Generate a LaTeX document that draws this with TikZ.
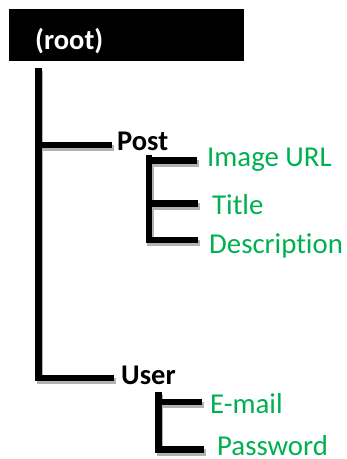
\documentclass[tikz,border=0pt]{standalone}
\usepackage{fontspec}
\setmainfont{Carlito}[Ligatures=NoCommon]
\usetikzlibrary{positioning}
\definecolor{leafgreen}{HTML}{00B050}

\begin{document}
\begin{tikzpicture}[x=1pt,y=-1pt]
		\tikzset{rootbox/.style={fill=black, text=white, anchor=north west,
				font=\bfseries\fontsize{28.5}{30}\selectfont, align=left,
				text width=183pt, inner xsep=26pt, inner ysep=0pt,
				text height=28pt, text depth=0pt, minimum height=52pt}}
		\tikzset{stem/.style={anchor=base west, inner sep=0pt,
				font=\bfseries\fontsize{28.5}{30}\selectfont}}
		\tikzset{leaf/.style={anchor=base west, inner sep=0pt, text=leafgreen,
				font=\fontsize{28.8}{30}\selectfont}}
		\tikzset{branch/.style={line width=6.5pt,
				preaction={draw=gray!60, line width=6.5pt,
					transform canvas={shift={(1.5pt,-3pt)}}}}}
		\useasboundingbox (0,0) rectangle (347,459);
		%nodes
		\node[rootbox] (root) at (9,9) {(root)};
		\node[stem] (post) at (117,150) {Post};
		\node[stem] (user) at (121,384) {User};
		\node[leaf] (image url) at (207,166) {Image URL};
		\node[leaf] (title) at (212,214) {Title};
		\node[leaf] (description) at (209,253) {Description};
		\node[leaf] (email) at (210,413) {E-mail};
		\node[leaf] (password) at (217,455) {Password};
		%branch points
		\coordinate (trunk) at (38.5,68);
		\coordinate (post fork) at (149,155);
		\coordinate (user fork) at (158.5,392);
		\coordinate (post end) at (112,145);
		\coordinate (user end) at (114,378);
		\coordinate (image end) at (197,160.5);
		\coordinate (title end) at (198,203.5);
		\coordinate (desc end) at (198,240);
		\coordinate (email end) at (202,402);
		\coordinate (pass end) at (204,449.5);
		%edges
		\draw[branch] (trunk) |- (user end);
		\draw[branch] ([xshift=3pt]trunk |- post end) -- (post end);
		\draw[branch] (post fork) |- (desc end);
		\draw[branch] ([xshift=3pt]post fork |- image end) -- (image end);
		\draw[branch] ([xshift=3pt]post fork |- title end) -- (title end);
		\draw[branch] (user fork) |- (pass end);
		\draw[branch] ([xshift=3pt]user fork |- email end) -- (email end);
\end{tikzpicture}
\end{document}
